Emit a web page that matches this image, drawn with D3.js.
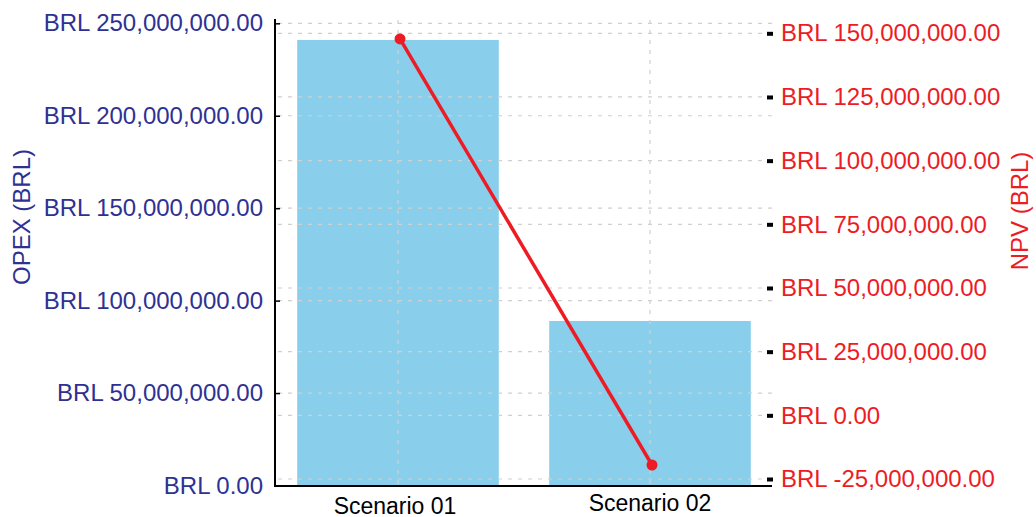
<!DOCTYPE html>
<html><head><meta charset="utf-8">
<script src="https://cdn.jsdelivr.net/npm/d3@7"></script>
<style>body{margin:0;background:#fff}svg{display:block}text{font-family:"Liberation Sans",Arial,sans-serif}</style>
</head><body>
<svg id="c" width="1036" height="517"></svg>
<script>
const categories = ["Scenario 01", "Scenario 02"];
const opex = [241000000, 89000000];
const npv = [147800000, -19500000];
const leftTicks = [0, 50000000, 100000000, 150000000, 200000000, 250000000];
const rightTicks = [-25000000, 0, 25000000, 50000000, 75000000, 100000000, 125000000, 150000000];

const svg = d3.select("#c");
const loc = d3.formatLocale({decimal: ".", thousands: ",", grouping: [3], currency: ["", ""], minus: "-"});
const fmt = v => "BRL " + loc.format(",.2f")(v);
const FF = '"Liberation Sans",Arial,sans-serif';

const x = d3.scaleBand().domain(categories).range([272, 776]).paddingInner(0.2).paddingOuter(0.1);
const yL = d3.scaleLinear().domain([0, 250000000]).range([485.5, 23.3]);
const yR = d3.scaleLinear().domain([-25000000, 150000000]).range([479, 33.3]);
const blue = "#2e3192", red = "#ed1c24";

// bars
svg.append("g").selectAll("rect").data(categories).join("rect")
  .attr("x", d => x(d)).attr("width", x.bandwidth())
  .attr("y", (d, i) => yL(opex[i])).attr("height", (d, i) => yL(0) - yL(opex[i]))
  .attr("fill", "#89cfeb");

// grid
const grid = svg.append("g").attr("stroke", "#d0d0d0").attr("stroke-width", 1.2).attr("stroke-dasharray", "4,6").attr("fill", "none");
leftTicks.forEach(t => grid.append("line").attr("x1", 278).attr("x2", 772).attr("y1", yL(t)).attr("y2", yL(t)));
rightTicks.forEach(t => grid.append("line").attr("x1", 278).attr("x2", 766).attr("y1", yR(t)).attr("y2", yR(t)));
categories.forEach(c => grid.append("line").attr("x1", x(c) + x.bandwidth() / 2).attr("x2", x(c) + x.bandwidth() / 2).attr("y1", 20).attr("y2", 485));

// left axis
const gl = svg.append("g").attr("transform", "translate(275,0)")
  .call(d3.axisLeft(yL).tickValues(leftTicks).tickFormat(fmt).tickSize(-5).tickPadding(12));
gl.select(".domain").remove();
gl.selectAll(".tick line").attr("stroke", "#000").attr("stroke-width", 1.5);
gl.selectAll(".tick text").attr("fill", blue).attr("font-size", 24).attr("font-family", FF);
svg.append("line").attr("x1", 275).attr("x2", 275).attr("y1", 19).attr("y2", 487).attr("stroke", "#000").attr("stroke-width", 2);

// right axis
const gr = svg.append("g").attr("transform", "translate(767,0)")
  .call(d3.axisRight(yR).tickValues(rightTicks).tickFormat(fmt).tickSize(6).tickPadding(8));
gr.select(".domain").remove();
gr.selectAll(".tick line").attr("stroke", "#000").attr("stroke-width", 4);
gr.selectAll(".tick text").attr("fill", red).attr("font-size", 24).attr("font-family", FF);

// bottom axis
const gb = svg.append("g").attr("transform", "translate(0,486)")
  .call(d3.axisBottom(x).tickSize(0).tickPadding(10));
gb.select(".domain").remove();
gb.selectAll(".tick text").attr("fill", "#000").attr("font-size", 23).attr("font-family", FF)
  .attr("dy", 0).attr("y", (d, i) => i === 0 ? 28 : 25).attr("dx", (d, i) => i === 0 ? -3 : 0);
svg.append("line").attr("x1", 274).attr("x2", 772).attr("y1", 486).attr("y2", 486).attr("stroke", "#000").attr("stroke-width", 2);

// line
const cx = (d, i) => x(categories[i]) + x.bandwidth() / 2 + 2;
svg.append("path").datum(npv)
  .attr("d", d3.line().x((d, i) => cx(d, i)).y(d => yR(d)))
  .attr("fill", "none").attr("stroke", red).attr("stroke-width", 3.5);
svg.append("g").selectAll("circle").data(npv).join("circle")
  .attr("cx", (d, i) => cx(d, i)).attr("cy", d => yR(d)).attr("r", 5.5).attr("fill", red);

// titles
svg.append("text").attr("transform", "translate(30,217) rotate(-90)").attr("text-anchor", "middle")
  .attr("fill", blue).attr("font-size", 24).text("OPEX (BRL)");
svg.append("text").attr("transform", "translate(1028,211) rotate(-90)").attr("text-anchor", "middle")
  .attr("fill", red).attr("font-size", 24).text("NPV (BRL)");
</script>
</body></html>
